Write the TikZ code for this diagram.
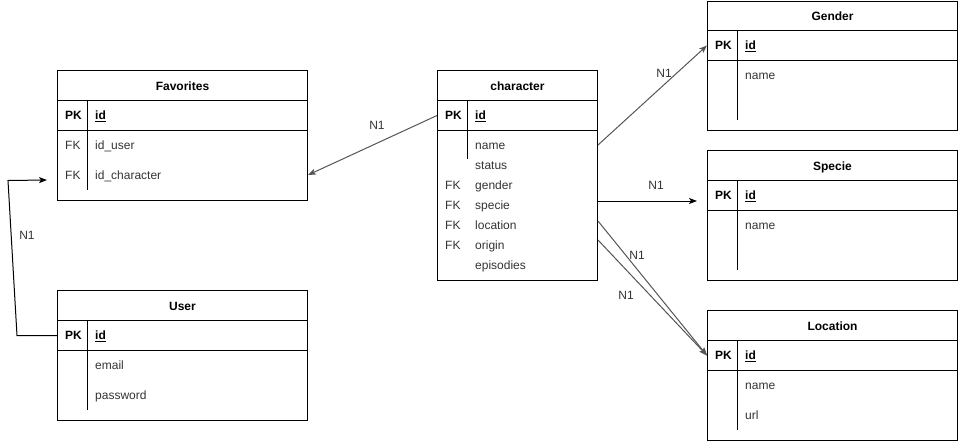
\documentclass[tikz,border=0pt]{standalone}
\usepackage{fontspec}
\setmainfont{Liberation Sans}
\usepackage{xcolor}
\usepackage{tikz}
\usetikzlibrary{calc,arrows.meta}
\definecolor{ink}{HTML}{000000}
\definecolor{txt}{HTML}{333333}
\definecolor{slant}{HTML}{555555}
\tikzset{
  tbl/.style={draw=ink, line width=1pt, anchor=north west, inner sep=0pt, minimum width=250pt,
    text height=11.5pt, text depth=2.5pt, font=\fontsize{12}{14}\selectfont},
  ttl/.style={tbl, minimum height=30pt, font=\fontsize{12}{14}\selectfont\bfseries},
  pkrow/.style={tbl, minimum height=30pt},
  bodyrow/.style={tbl, minimum height=70pt},
  key/.style={anchor=west, inner sep=0pt, text height=11.5pt, text depth=2.5pt, font=\fontsize{12}{14}\selectfont\bfseries},
  fk/.style={anchor=west, inner sep=0pt, text height=11.5pt, text depth=2.5pt, text=txt, font=\fontsize{12}{14}\selectfont},
  fld/.style={fk},
  sep/.style={draw=ink, line width=1pt},
  rel/.style={draw=ink, line width=1pt, -{Stealth[length=8pt,width=6pt,inset=2pt]}},
  reld/.style={rel, draw=slant},
  lbl/.style={text=txt, inner sep=0pt, font=\fontsize{12}{14}\selectfont},
}

\begin{document}
\begin{tikzpicture}[x=1pt,y=-1pt]
  \useasboundingbox (0,0) rectangle (959,442);
  % Favorites
  \node[ttl] (favhead) at (57,70) {Favorites};
  \node[pkrow] (favpk) at (57,100) {};
  \node[bodyrow] (favbody) at (57,130) {};
  \node[key] (favpkl) at (65,115) {PK};
  \node[key] (favid) at (95,115) {\underline{id}};
  \node[fk] (favfk1) at (65,145) {FK};
  \node[fld] (favuser) at (95,145) {id\_user};
  \node[fk] (favfk2) at (65,175) {FK};
  \node[fld] (favchar) at (95,175) {id\_character};
  \draw[sep] ([xshift=30pt]favpk.north west) -- ++(0,90);
  % User
  \node[ttl] (userhead) at (57,290) {User};
  \node[pkrow] (userpk) at (57,320) {};
  \node[bodyrow] (userbody) at (57,350) {};
  \node[key] (userpkl) at (65,335) {PK};
  \node[key] (userid) at (95,335) {\underline{id}};
  \node[fld] (usermail) at (95,365) {email};
  \node[fld] (userpass) at (95,395) {password};
  \draw[sep] ([xshift=30pt]userpk.north west) -- ++(0,90);
  % character
  \node[ttl, minimum width=160pt] (charhead) at (437,70) {character};
  \node[pkrow, minimum width=160pt] (charpk) at (437,100) {};
  \node[bodyrow, minimum width=160pt, minimum height=150pt] (charbody) at (437,130) {};
  \node[key] (charpkl) at (445,115) {PK};
  \node[key] (charid) at (475,115) {\underline{id}};
  \foreach \f/\y in {name/145, status/165, gender/185, specie/205, location/225, origin/245, episodies/265}
    \node[fld] (c\f) at (475,\y) {\f};
  \foreach \f/\y in {gender/185, specie/205, location/225, origin/245}
    \node[fk] (fk\f) at (445,\y) {FK};
  \draw[sep] ([xshift=30pt]charpk.north west) -- ++(0,59);
  % Gender
  \node[ttl, minimum height=29.5pt] (genhead) at (707,0.5) {Gender};
  \node[pkrow] (genpk) at (707,30) {};
  \node[bodyrow] (genbody) at (707,60) {};
  \node[key] (genpkl) at (715,45) {PK};
  \node[key] (genid) at (745,45) {\underline{id}};
  \node[fld] (genname) at (745,75) {name};
  \draw[sep] ([xshift=30pt]genpk.north west) -- ++(0,90);
  % Specie
  \node[ttl] (spechead) at (707,150) {Specie};
  \node[pkrow] (specpk) at (707,180) {};
  \node[bodyrow] (specbody) at (707,210) {};
  \node[key] (specpkl) at (715,195) {PK};
  \node[key] (specid) at (745,195) {\underline{id}};
  \node[fld] (specname) at (745,225) {name};
  \draw[sep] ([xshift=30pt]specpk.north west) -- ++(0,90);
  % Location
  \node[ttl] (lochead) at (707,310) {Location};
  \node[pkrow] (locpk) at (707,340) {};
  \node[bodyrow] (locbody) at (707,370) {};
  \node[key] (locpkl) at (715,355) {PK};
  \node[key] (locid) at (745,355) {\underline{id}};
  \node[fld] (locname) at (745,385) {name};
  \node[fld] (locurl) at (745,415) {url};
  \draw[sep] ([xshift=30pt]locpk.north west) -- ++(0,90);
  % relations
  \coordinate (favin) at (47,180);
  \coordinate (specin) at (697,201);
  \draw[reld] (charpk.west) -- (favbody.east |- favchar);
  \draw[rel] (userpk.west) -- ++(-40,0) -- ++(-9,-155) -- (favin);
  \draw[reld] (charbody.east |- cname) -- (genpk.west);
  \draw[rel] (charbody.east |- specin) -- (specin);
  \draw[reld] ($(charbody.east |- clocation)+(0,-4)$) -- (locpk.west);
  \draw[reld] ($(charbody.east |- corigin)+(0,-5)$) -- (locpk.west);
  \node[lbl] (lfav) at (377,125) {N1};
  \node[lbl] (luser) at (27,235) {N1};
  \node[lbl] (lgen) at (664,73) {N1};
  \node[lbl] (lspec) at (656,185) {N1};
  \node[lbl] (lloc) at (637,255) {N1};
  \node[lbl] (lorig) at (626,295) {N1};
\end{tikzpicture}
\end{document}
